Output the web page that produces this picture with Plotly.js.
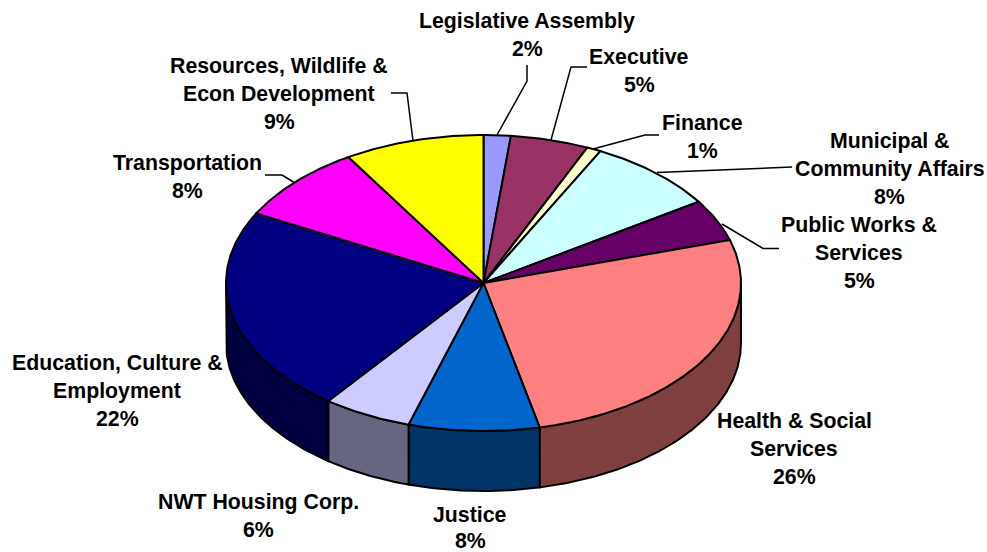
<!DOCTYPE html>
<html>
<head>
<meta charset="utf-8">
<title>Departmental spending</title>
<script src="https://cdn.plot.ly/plotly-3.0.1.min.js"></script>
<style>html,body{margin:0;padding:0;background:#fff}#chart{width:987px;height:552px}</style>
</head>
<body>
<div id="chart"></div>
<script>
// Share of spending by department, clockwise from twelve o'clock
const departments = ["Legislative Assembly", "Executive", "Finance", "Municipal & Community Affairs",
  "Public Works & Services", "Health & Social Services", "Justice", "NWT Housing Corp.",
  "Education, Culture & Employment", "Transportation", "Resources, Wildlife & Econ Development"];
const shares = [1.7, 4.9, 0.9, 8.25, 4.55, 26.2, 8.2, 5.6, 22.5, 8.4, 8.8];

// Wrapped label text for each department
const labelLines = [["Legislative Assembly"], ["Executive"], ["Finance"], ["Municipal &", "Community Affairs"],
  ["Public Works &", "Services"], ["Health & Social", "Services"], ["Justice"], ["NWT Housing Corp."],
  ["Education, Culture &", "Employment"], ["Transportation"], ["Resources, Wildlife &", "Econ Development"]];

const topColors = ["#9999FF", "#993366", "#FFFFCC", "#CCFFFF", "#660066", "#FF8080",
  "#0066CC", "#CCCCFF", "#000080", "#FF00FF", "#FFFF00"];
const sideColors = ["#4D4D80", "#4D1A33", "#808066", "#668080", "#330033", "#804040",
  "#003366", "#666680", "#000040", "#800080", "#808000"];

// Page geometry of the tilted disc, in pixels
const W = 987, H = 552;
const CX = 483.5, CY = 283, RX = 257.5, RY = 148, DEPTH = 60;
const px = v => (v - CX) / RX;            // page x to axis x
const py = v => (CY - v) / RY;            // page y to axis y
const dropY = DEPTH / RY;                 // rim thickness in axis units

// Label block centre x, first-line y and line pitch in pixels
const labelPos = [[527, 21, 28], [639, 57, 28], [702, 123, 28], [889.5, 141, 28], [859, 225, 28], [794, 421, 28],
  [470, 515, 26], [258.5, 502, 28], [117, 363, 28], [187, 163, 28], [279, 66, 28]];

// Leader polylines in pixels: [department index, points]
const leaders = [
  [0, [[527, 65], [527, 81], [497, 135]]],
  [1, [[587, 67], [571, 67], [551, 140]]],
  [2, [[659, 135], [645, 135], [593, 149]]],
  [3, [[792, 167], [657, 172.5]]],
  [4, [[779, 248.5], [763, 248.5], [722, 224]]],
  [10, [[391, 93], [407, 93], [413, 141]]],
  [9, [[265, 175], [282, 175], [295, 183]]]
];

const total = shares.reduce((a, b) => a + b, 0);
const STEP = Math.PI / 360;

// Points along the ellipse between two angles (radians, clockwise from top)
function arc(a0, a1, drop) {
  const n = Math.max(2, Math.ceil(Math.abs(a1 - a0) / STEP));
  const xs = [], ys = [];
  for (let i = 0; i <= n; i++) {
    const t = a0 + (a1 - a0) * i / n;
    xs.push(Math.sin(t));
    ys.push(Math.cos(t) - drop);
  }
  return [xs, ys];
}

const sideTraces = [], topTraces = [];
let run = 0;
shares.forEach((share, i) => {
  const a0 = run / total * 2 * Math.PI;
  run += share;
  const a1 = run / total * 2 * Math.PI;

  // The rim is only visible on the near half of the disc
  const s0 = Math.max(a0, Math.PI / 2), s1 = Math.min(a1, 3 * Math.PI / 2);
  if (s1 > s0) {
    const [ux, uy] = arc(s0, s1, 0);
    const [lx, ly] = arc(s1, s0, dropY);
    sideTraces.push({
      x: ux.concat(lx, [ux[0]]), y: uy.concat(ly, [uy[0]]),
      type: "scatter", mode: "lines", fill: "toself", fillcolor: sideColors[i],
      line: {color: "#000", width: 2}, hoverinfo: "skip", showlegend: false
    });
  }

  const [tx, ty] = arc(a0, a1, 0);
  topTraces.push({
    x: [0].concat(tx, [0]), y: [0].concat(ty, [0]),
    type: "scatter", mode: "lines", fill: "toself", fillcolor: topColors[i],
    line: {color: "#000", width: 2}, name: departments[i],
    text: departments[i] + ": " + Math.round(share / total * 100) + "%",
    hoverinfo: "text", showlegend: false
  });
});

const leaderTraces = leaders.map(([i, pts]) => ({
  x: pts.map(p => px(p[0])), y: pts.map(p => py(p[1])),
  type: "scatter", mode: "lines", line: {color: "#000", width: 1.5},
  name: departments[i], hoverinfo: "skip", showlegend: false
}));

// One annotation per text line so the pitch stays fixed
const annotations = [];
departments.forEach((d, i) => {
  const lines = labelLines[i].concat([Math.round(shares[i] / total * 100) + "%"]);
  lines.forEach((text, k) => annotations.push({
    x: px(labelPos[i][0]), y: py(labelPos[i][1] + k * labelPos[i][2]),
    xref: "x", yref: "y", text: text, showarrow: false,
    xanchor: "center", yanchor: "middle", borderpad: 0,
    font: {family: '"Liberation Sans", Arial, sans-serif', size: 21.3, weight: 700, color: "#000"}
  }));
});

const hidden = {visible: false, showgrid: false, zeroline: false, fixedrange: true};
Plotly.newPlot("chart", sideTraces.concat(leaderTraces, topTraces), {
  width: W, height: H,
  margin: {l: 0, r: 0, t: 0, b: 0},
  paper_bgcolor: "#fff", plot_bgcolor: "#fff",
  xaxis: Object.assign({range: [px(0), px(W)]}, hidden),
  yaxis: Object.assign({range: [py(H), py(0)]}, hidden),
  annotations: annotations,
  showlegend: false
}, {displayModeBar: false});
</script>
</body>
</html>
